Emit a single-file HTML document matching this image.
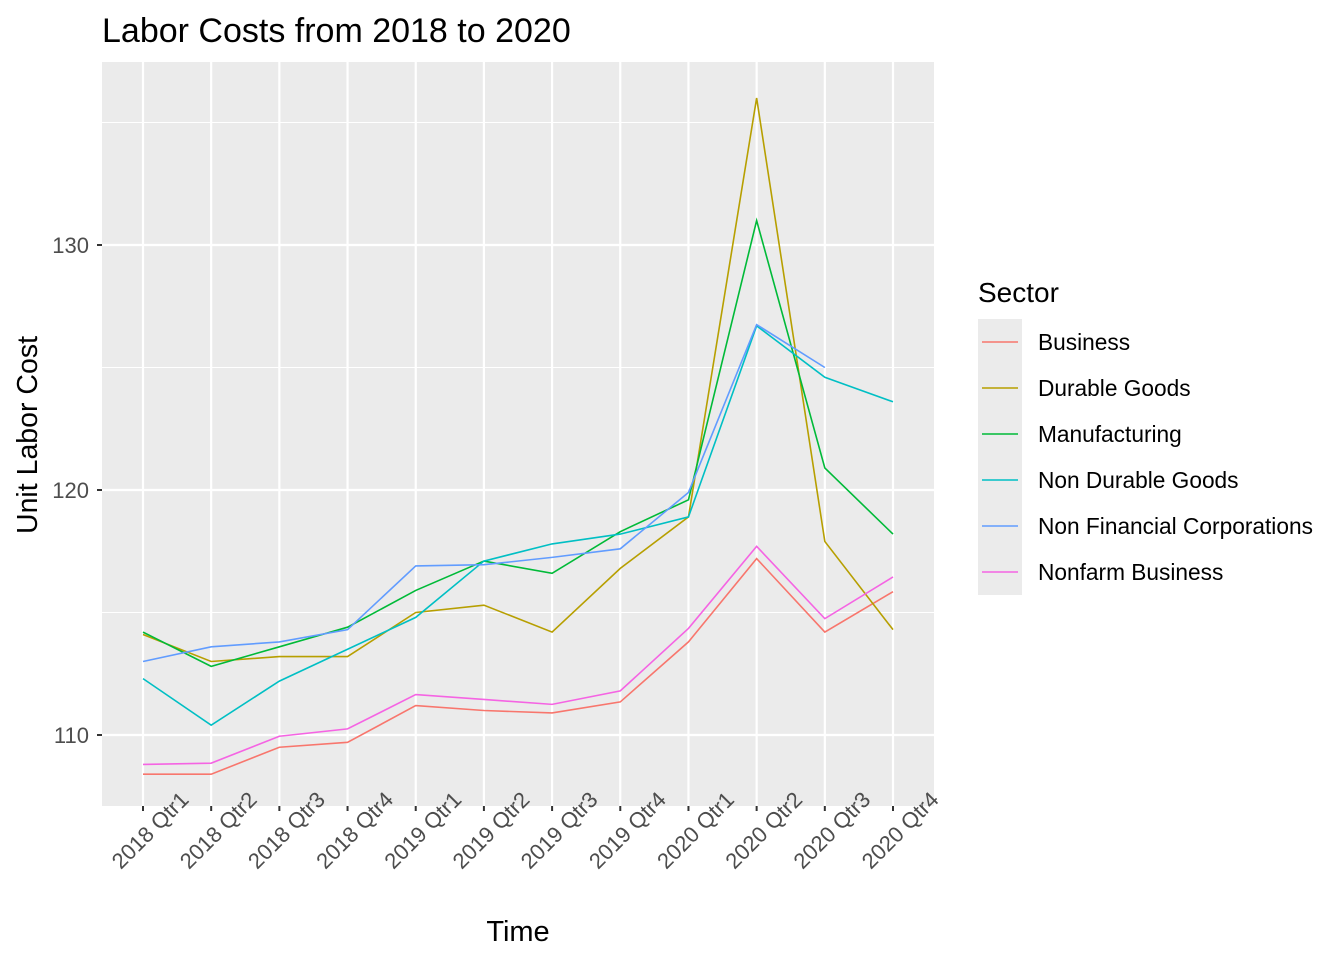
<!DOCTYPE html>
<html><head><meta charset="utf-8"><style>
body{margin:0;background:#fff;}
text{font-family:"Liberation Sans",Arial,sans-serif;}
</style></head><body>
<svg id="chart" width="1344" height="960" viewBox="0 0 1344 960">
<rect x="0" y="0" width="1344" height="960" fill="#fff"/>
<text x="102" y="42" font-size="34" fill="#000">Labor Costs from 2018 to 2020</text>
<rect x="102" y="62" width="832" height="744" fill="#ebebeb"/>
<g id="grid"></g><g id="series"></g><g id="axes"></g>
<text transform="translate(37,435) rotate(-90)" text-anchor="middle" font-size="28.5" fill="#000">Unit Labor Cost</text>
<text x="518" y="941" text-anchor="middle" font-size="29" fill="#000">Time</text>
<g id="legend"></g>
</svg>
<script>
const categories=["2018 Qtr1","2018 Qtr2","2018 Qtr3","2018 Qtr4","2019 Qtr1","2019 Qtr2","2019 Qtr3","2019 Qtr4","2020 Qtr1","2020 Qtr2","2020 Qtr3","2020 Qtr4"];
const seriesNames=["Business","Durable Goods","Manufacturing","Non Durable Goods","Non Financial Corporations","Nonfarm Business"];
const seriesColors=["#F8766D","#B79F00","#00BA38","#00BFC4","#619CFF","#F564E3"];
const business=[108.4,108.4,109.5,109.7,111.2,111.0,110.9,111.35,113.8,117.2,114.2,115.85];
const durable=[114.1,113.0,113.2,113.2,115.0,115.3,114.2,116.8,118.9,136.0,117.9,114.3];
const manufacturing=[114.2,112.8,113.6,114.4,115.9,117.1,116.6,118.3,119.6,131.0,120.9,118.2];
const nonDurable=[112.3,110.4,112.2,113.5,114.8,117.1,117.8,118.2,118.9,126.7,124.6,123.6];
const nonFinancial=[113.0,113.6,113.8,114.3,116.9,116.95,117.25,117.6,119.9,126.75,125.0,null];
const nonfarm=[108.8,108.85,109.95,110.25,111.65,111.45,111.25,111.8,114.35,117.7,114.75,116.45];
const yTicks=[110,120,130];
const yMinor=[115,125,135];
const allSeries=[business,durable,manufacturing,nonDurable,nonFinancial,nonfarm];
const NS="http://www.w3.org/2000/svg";
const X0=102,X1=934,Y0=62,Y1=806;
function x(i){return 143+i*(893-143)/(categories.length-1);}
function y(v){return 735-(v-110)*24.5;}
function mk(tag,attrs,parent){const e=document.createElementNS(NS,tag);for(const k in attrs)e.setAttribute(k,attrs[k]);parent.appendChild(e);return e;}
const grid=document.getElementById('grid'),axes=document.getElementById('axes'),ser=document.getElementById('series'),leg=document.getElementById('legend');
yMinor.forEach(v=>{const l=mk('line',{x1:X0,x2:X1,y1:y(v),y2:y(v),stroke:'#fff','stroke-width':1.1},grid);

});
yTicks.forEach(v=>{const l=mk('line',{x1:X0,x2:X1,y1:y(v),y2:y(v),stroke:'#fff','stroke-width':2.2},grid);


const t=mk('text',{x:89,y:y(v)+8,'text-anchor':'end','font-size':22,fill:'#4d4d4d'},axes);t.textContent=v;


const tk=mk('line',{x1:97,x2:102,y1:y(v),y2:y(v),stroke:'#333','stroke-width':2},axes);

});
categories.forEach((c,i)=>{const l=mk('line',{x1:x(i),x2:x(i),y1:Y0,y2:Y1,stroke:'#fff','stroke-width':2.2},grid);


const tk=mk('line',{x1:x(i),x2:x(i),y1:806,y2:811,stroke:'#333','stroke-width':2},axes);


const t=mk('text',{transform:`translate(${x(i)+47},${801}) rotate(-45)`,'text-anchor':'end','font-size':22,fill:'#4d4d4d'},axes);t.textContent=c;

});
allSeries.forEach((s,k)=>{let d='';let pen=false;s.forEach((v,i)=>{if(v==null){pen=false;return;}d+=(pen?'L':'M')+x(i)+','+y(v);pen=true;});
const p=mk('path',{d:d,fill:'none',stroke:seriesColors[k],'stroke-width':1.6},ser);

});
const lt=mk('text',{x:978,y:302,'font-size':28,fill:'#000'},leg);lt.textContent='Sector';


seriesNames.forEach((n,k)=>{const cy=342+k*46;
const r=mk('rect',{x:978,y:cy-23,width:44,height:46,fill:'#ebebeb'},leg);


const l=mk('line',{x1:982,x2:1018,y1:cy,y2:cy,stroke:seriesColors[k],'stroke-width':1.6},leg);


const t=mk('text',{x:1038,y:cy+8,'font-size':22.7,fill:'#000'},leg);t.textContent=n;

});
</script>
</body></html>
